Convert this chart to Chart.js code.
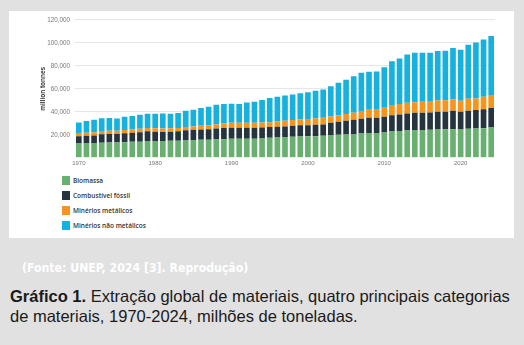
<!DOCTYPE html>
<html>
<head>
<meta charset="utf-8">
<script src="https://cdn.jsdelivr.net/npm/chart.js@4.4.1/dist/chart.umd.min.js"></script>
<style>
  body { margin: 0; width: 524px; height: 345px; background: #e1e1e1; position: relative; overflow: hidden; font-family: "Liberation Sans", Arial, sans-serif; }
  #panel { position: absolute; left: 9px; top: 11px; width: 505px; height: 227px; background: #fff; }
  #chartBox { position: absolute; left: 0; top: 0; width: 505px; height: 160px; }
  #legend { position: absolute; left: 53px; top: 162px; font-family: "Open Sans", sans-serif; font-weight: 600; font-size: 6.5px; color: #333; }
  .item { display: flex; align-items: center; height: 15px; }
  .swatch { width: 8px; height: 9px; margin-right: 3px; }
  #source { position: absolute; left: 22px; top: 261px; color: #fff; font-family: "DejaVu Sans Condensed", sans-serif; font-weight: bold; font-size: 12.2px; }
  #caption { position: absolute; left: 10px; top: 286px; font-size: 16.5px; line-height: 20px; color: #1a1a1a; }
</style>
</head>
<body>
<div id="panel">
  <div id="chartBox"><canvas id="myChart"></canvas></div>
  <div id="legend"></div>
</div>
<div id="source">(Fonte: UNEP, 2024 [3]. Reprodução)</div>
<div id="caption"><b>Gráfico 1.</b> Extração global de materiais, quatro principais categorias<br>de materiais, 1970-2024, milhões de toneladas.</div>

<script>
// million tonnes per year, 1970-2024
var years = [];
for (var y = 1970; y <= 2024; y++) years.push(y);

var biomassa = [12400, 12400, 12400, 13000, 13300, 13300, 13600, 13900, 13900, 14500,
                14500, 14500, 14800, 14800, 15100, 15400, 15700, 15700, 15900, 16200,
                16500, 16500, 16500, 16500, 16800, 17400, 17700, 18000, 18300, 18500,
                18800, 18800, 19100, 19400, 20000, 20300, 20600, 21200, 21500, 21500,
                22000, 22900, 23200, 23800, 24100, 24100, 24300, 24600, 24900, 24900,
                24600, 25200, 25500, 25800, 26400];

var combustivel = [6400, 6700, 7000, 7500, 7400, 7300, 7800, 7900, 8400, 8500,
                   8200, 8000, 7900, 8300, 8800, 8900, 9000, 9200, 9600, 9800,
                   9600, 9600, 9600, 9600, 9600, 9300, 9300, 9200, 9500, 9900,
                   9600, 9900, 9900, 11000, 11300, 11900, 12400, 12700, 13300, 13300,
                   13700, 14200, 14500, 14800, 15000, 15000, 15100, 15400, 15100, 16000,
                   15400, 15700, 16000, 16500, 16800];

var metalicos = [2700, 2600, 2600, 2900, 2900, 2900, 2800, 2900, 2900, 2900,
                 2900, 2900, 2900, 2900, 2800, 2900, 3200, 3100, 3400, 3900,
                 4300, 4300, 4300, 4300, 4200, 4200, 4600, 5000, 5000, 4900,
                 5400, 5500, 5800, 5500, 5800, 5800, 6100, 6700, 6900, 6900,
                 7800, 8700, 9000, 9200, 9300, 9600, 9300, 9900, 10100, 9800,
                 9600, 10400, 10100, 10700, 10700];

var naoMetalicos = [9200, 10200, 11000, 11000, 11000, 10700, 11400, 11600, 12200, 12500,
                    12800, 13100, 12800, 13000, 14200, 14500, 15400, 16300, 17300, 16900,
                    16600, 16300, 17700, 18300, 19700, 21200, 21400, 22000, 22200, 22900,
                    23200, 24100, 24600, 26300, 28100, 29800, 31900, 33300, 33100, 33300,
                    35300, 38200, 39700, 42100, 42900, 42600, 42600, 42900, 42900, 44700,
                    44300, 47000, 48700, 49900, 51900];

var seriesNames = ['Biomassa', 'Combustível fóssil', 'Minérios metálicos', 'Minérios não metálicos'];
var seriesColors = ['#67b06f', '#25343e', '#f7941e', '#17b1de'];
var seriesData = [biomassa, combustivel, metalicos, naoMetalicos];

var datasets = seriesNames.map(function(name, i) {
    return {
        label: name,
        data: seriesData[i],
        backgroundColor: seriesColors[i],
        borderWidth: 0,
        barPercentage: 0.74,
        categoryPercentage: 1
    };
});

var ctx = document.getElementById('myChart').getContext('2d');
var myChart = new Chart(ctx, {
    type: 'bar',
    data: { labels: years, datasets: datasets },
    options: {
        responsive: true,
        maintainAspectRatio: false,
        animation: false,
        layout: { padding: { left: 30, right: 19, top: 8, bottom: 2 } },
        plugins: { legend: { display: false }, tooltip: { enabled: false } },
        scales: {
            x: {
                stacked: true,
                grid: { display: false, drawTicks: false, tickLength: 0 },
                border: { display: false },
                ticks: {
                    autoSkip: false,
                    maxRotation: 0,
                    padding: 2,
                    color: '#777',
                    font: { family: 'Liberation Sans', size: 6 },
                    callback: function(val, i) {
                        return years[i] % 10 === 0 ? String(years[i]) : '';
                    }
                }
            },
            y: {
                stacked: true,
                min: 0,
                max: 120000,
                afterFit: function(axis) { axis.width = 36; },
                grid: {
                    drawTicks: false,
                    color: function(c) { return c.tick && c.tick.value === 0 ? 'rgba(0,0,0,0)' : '#e6e6e6'; }
                },
                border: { display: false },
                ticks: {
                    stepSize: 20000,
                    padding: 5,
                    color: '#777',
                    font: { family: 'Liberation Sans', size: 6.3 },
                    callback: function(v) { return v === 0 ? '' : v.toLocaleString('en-US'); }
                },
                title: {
                    display: true,
                    text: 'million tonnes',
                    color: '#333',
                    padding: 0,
                    font: { family: 'Liberation Sans', size: 6.5, weight: 'bold' }
                }
            }
        }
    }
});

// vertical legend under the chart
var legendEl = document.getElementById('legend');
seriesNames.forEach(function(name, i) {
    var item = document.createElement('div');
    item.className = 'item';
    var sw = document.createElement('span');
    sw.className = 'swatch';
    sw.style.background = seriesColors[i];
    var txt = document.createElement('span');
    txt.textContent = name;
    item.appendChild(sw);
    item.appendChild(txt);
    legendEl.appendChild(item);
});
</script>
</body>
</html>
